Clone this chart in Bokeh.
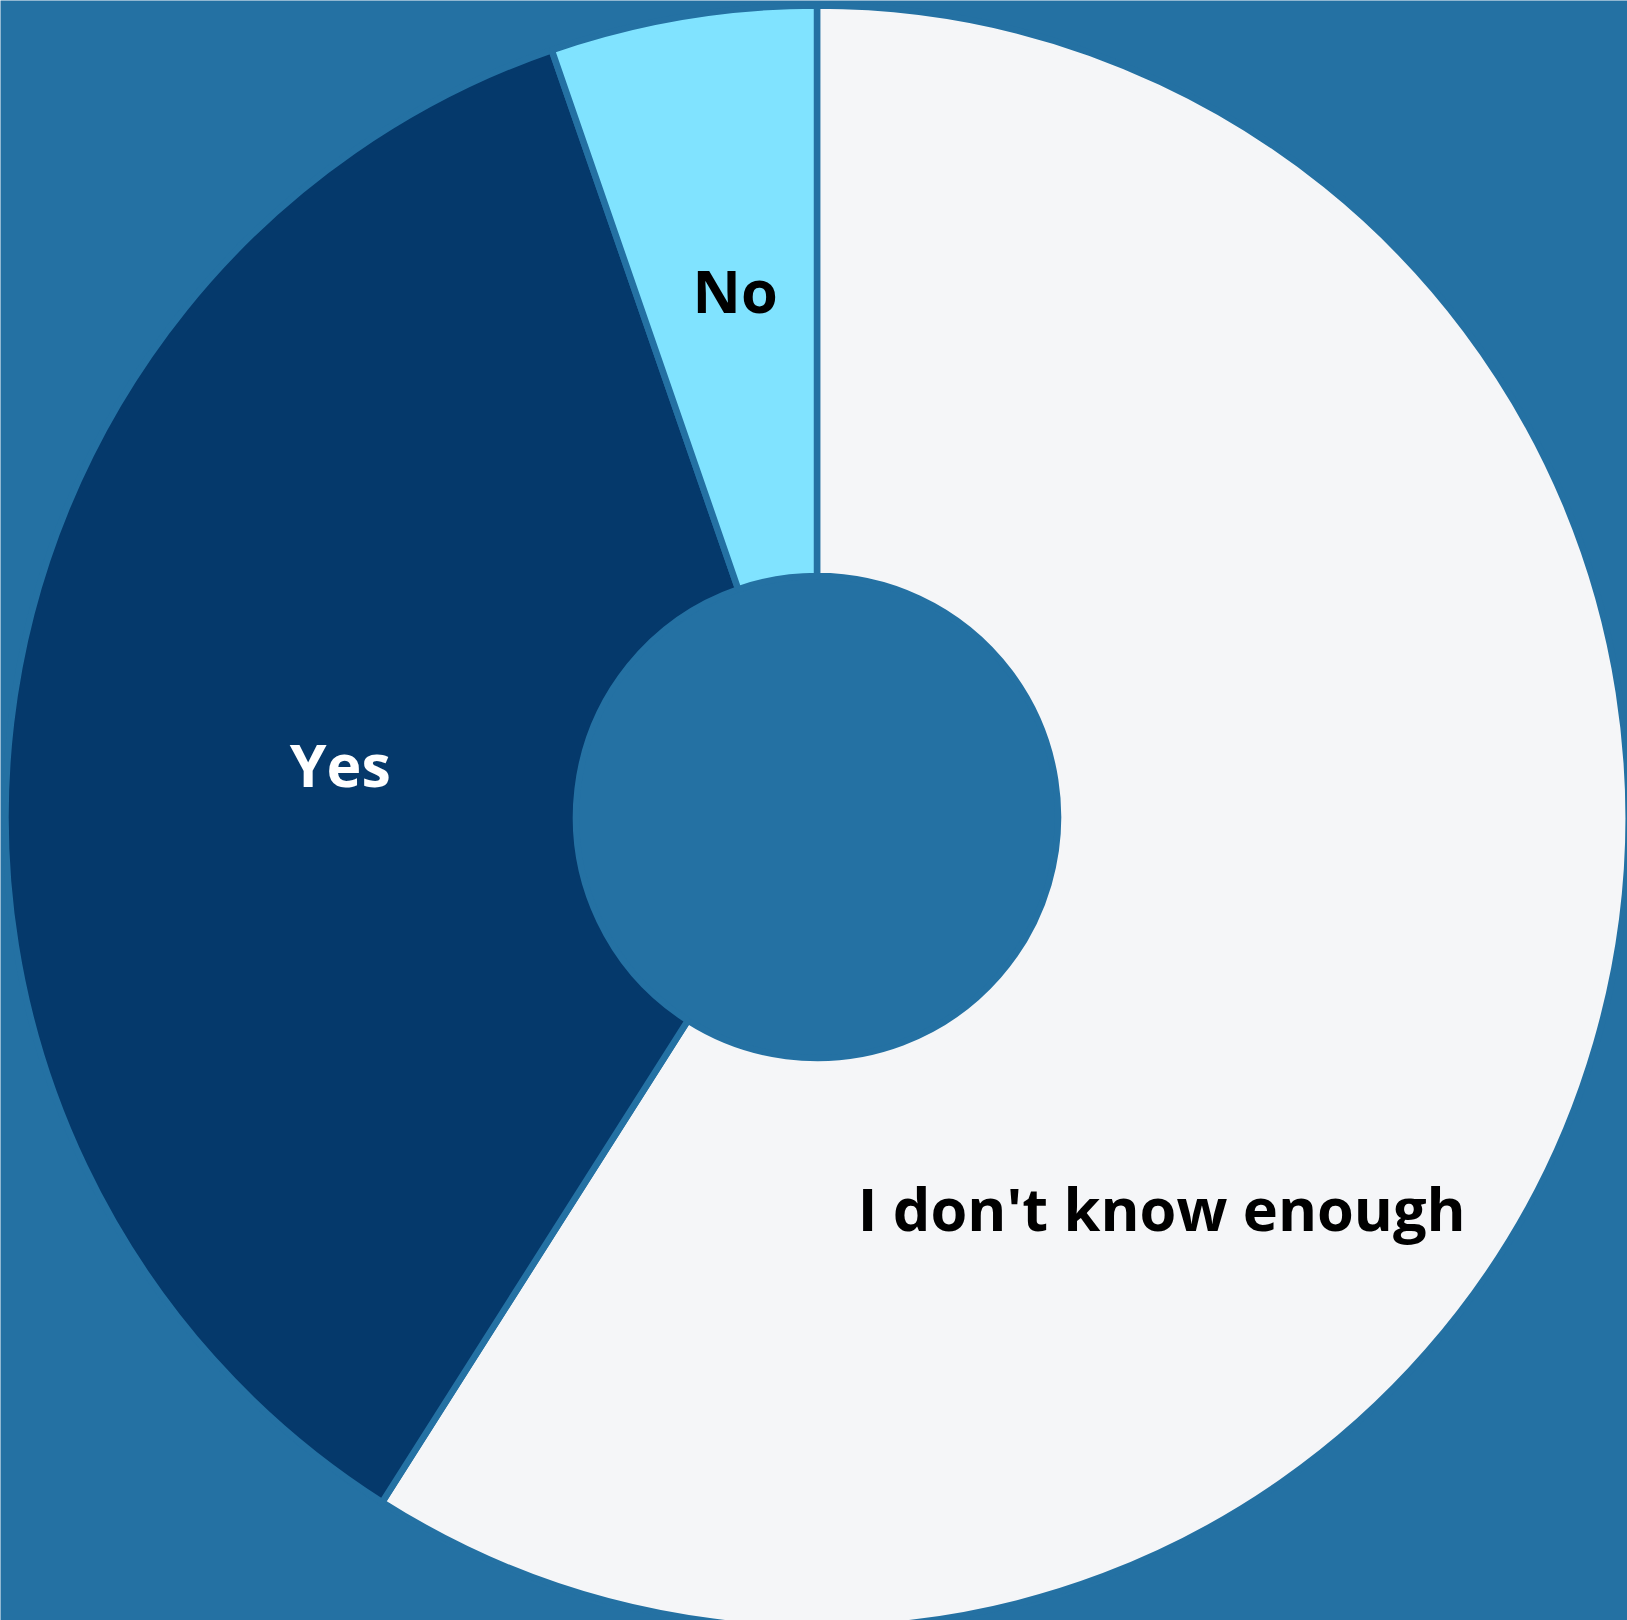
import math
from bokeh.plotting import figure
from bokeh.models import ColumnDataSource, Range1d
from bokeh.core.properties import value
from bokeh.embed import file_html
from bokeh.resources import INLINE

# Data
categories = ["I don't know enough", "Yes", "No"]
shares = [59.0, 35.7, 5.3]
colors = ["#f5f6f8", "#05396b", "#80e3ff"]
label_colors = ["#000000", "#ffffff", "#000000"]

BG = "#2471a3"
W, H = 1627, 1620
CX, CY = 816.5, 816.5
R_OUT, R_IN = 811.5, 241.0

total = sum(shares)
starts, ends = [], []
a = math.pi / 2
for s in shares:
    starts.append(a)
    a -= s / total * 2 * math.pi
    ends.append(a)

src = ColumnDataSource(dict(cat=categories, start=starts, end=ends, color=colors))

p = figure(width=W, height=H, output_backend="svg", toolbar_location=None,
           x_range=Range1d(-CX, W - CX), y_range=Range1d(-(H - CY), CY),
           min_border=0, border_fill_color=BG, background_fill_color=BG,
           outline_line_color=None)
p.axis.visible = False
p.grid.visible = False

p.annular_wedge(x=0, y=0, inner_radius=R_IN, outer_radius=R_OUT,
                start_angle="end", end_angle="start", fill_color="color",
                line_color=BG, line_width=6.5, source=src)

# label placement (polar: angle in degrees, radius) and font sizes
label_angles = [-48.57, 173.68, 98.81]
label_radii = [520.9, 479.7, 534.1]
label_sizes = ["59.5px", "59px", "59.5px"]
for cat, ang, r, fs, lc in zip(categories, label_angles, label_radii, label_sizes, label_colors):
    x = r * math.cos(math.radians(ang))
    y = r * math.sin(math.radians(ang))
    p.text(x=[x], y=[y], text=[cat], text_align="center", text_baseline="alphabetic",
           text_font=value("Open Sans"), text_font_style="bold",
           text_font_size=fs, text_color=lc)

open("out.html", "w").write(file_html(p, INLINE))
